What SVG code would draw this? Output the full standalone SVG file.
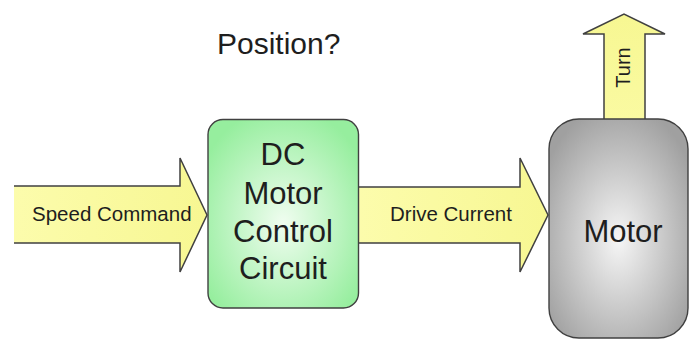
<svg xmlns="http://www.w3.org/2000/svg" width="691" height="341" viewBox="0 0 691 341">
  <defs>
    <linearGradient id="yellowH" x1="0" y1="0" x2="1" y2="0">
      <stop offset="0" stop-color="#fcfcac"/>
      <stop offset="1" stop-color="#f7f792"/>
    </linearGradient>
    <linearGradient id="yellowV" x1="0" y1="1" x2="0" y2="0">
      <stop offset="0" stop-color="#fafaa2"/>
      <stop offset="1" stop-color="#f7f792"/>
    </linearGradient>
    <radialGradient id="greenGrad" cx="0.5" cy="0.55" r="0.62">
      <stop offset="0" stop-color="#f0fdf0"/>
      <stop offset="1" stop-color="#96ee9e"/>
    </radialGradient>
    <radialGradient id="grayGrad" cx="0.5" cy="0.55" r="0.62">
      <stop offset="0" stop-color="#f6f6f6"/>
      <stop offset="1" stop-color="#a0a0a0"/>
    </radialGradient>
  </defs>
  <style>
    .arrow { stroke: #404040; stroke-width: 1.5; stroke-linejoin: miter; }
    .box { stroke: #404040; stroke-width: 1.4; }
    .lbl { font-family: "Liberation Sans", Arial, sans-serif; fill: #1e1e1e; }
    .big { font-size: 31px; }
  </style>
  <rect width="691" height="341" fill="#ffffff"/>

  <g id="connectors">
    <g id="turn-arrow">
      <path class="arrow" d="M604,124 L604,34 L583,34 L624,14 L665,34 L645,34 L645,124" fill="url(#yellowV)"/>
      <text class="lbl" font-size="20" transform="translate(630,67.5) rotate(-90)" text-anchor="middle">Turn</text>
    </g>
    <g id="speed-command">
      <path class="arrow" d="M14,186 L180,186 L180,158 L207,215 L180,272 L180,243 L14,243" fill="url(#yellowH)"/>
      <text class="lbl" font-size="20.5" x="32" y="221">Speed Command</text>
    </g>
    <g id="drive-current">
      <path class="arrow" d="M358,187 L520,187 L520,158 L548,215 L520,272 L520,243 L358,243" fill="url(#yellowH)"/>
      <text class="lbl" font-size="20.5" x="390" y="221">Drive Current</text>
    </g>
  </g>

  <g id="position-label">
    <text class="lbl" font-size="30" x="217" y="54">Position?</text>
  </g>

  <g id="control-circuit">
    <rect class="box" x="208" y="119.5" width="150.5" height="188.5" rx="15" ry="15" fill="url(#greenGrad)"/>
    <text class="lbl big" text-anchor="middle" x="283" y="165">DC</text>
    <text class="lbl big" text-anchor="middle" x="283" y="204">Motor</text>
    <text class="lbl big" text-anchor="middle" x="283" y="242">Control</text>
    <text class="lbl big" text-anchor="middle" x="283" y="279">Circuit</text>
  </g>

  <g id="motor">
    <rect class="box" x="549" y="119" width="139" height="219" rx="30" ry="30" fill="url(#grayGrad)"/>
    <text class="lbl big" text-anchor="middle" x="623" y="242">Motor</text>
  </g>
</svg>
